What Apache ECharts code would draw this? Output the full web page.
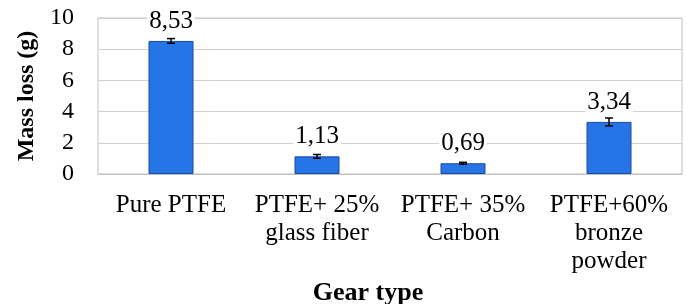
<!DOCTYPE html>
<html>
<head>
<meta charset="utf-8">
<script src="https://cdn.jsdelivr.net/npm/echarts@6/dist/echarts.min.js"></script>
<style>
  html, body { margin: 0; padding: 0; background: #fff; }
  #main { width: 687px; height: 304px; }
</style>
</head>
<body>
<div id="main"></div>
<script>
const categories = ['Pure PTFE', 'PTFE+ 25%\nglass fiber', 'PTFE+ 35%\nCarbon', 'PTFE+60%\nbronze\npowder']
const massLoss = [8.53, 1.13, 0.69, 3.34]
const errors = [0.15, 0.12, 0.06, 0.25]
const labels = ['8,53', '1,13', '0,69', '3,34']

const font = 'Liberation Serif'
const myChart = echarts.init(document.getElementById('main'))

// error bars drawn as custom series from value +/- error
const errorData = massLoss.map((v, i) => [i, v - errors[i], v + errors[i]])

const option = {
  animation: false,
  textStyle: { fontFamily: font, color: '#000' },
  grid: {
    left: 98, right: 5, top: 18, bottom: 130,
    containLabel: false,
    outerBoundsMode: 'none',
    show: true, borderColor: '#c0c0c0', borderWidth: 1
  },
  xAxis: {
    type: 'category',
    data: categories,
    name: 'Gear type',
    nameLocation: 'middle',
    nameGap: 106,
    nameTextStyle: {
      fontFamily: font, fontSize: 26, fontWeight: 'bold', color: '#000',
      padding: [0, 44, 0, 0]
    },
    axisLine: { lineStyle: { color: '#c0c0c0' } },
    axisTick: { show: false },
    axisLabel: {
      interval: 0, fontFamily: font, fontSize: 25, color: '#000',
      lineHeight: 28, margin: 17
    }
  },
  yAxis: {
    type: 'value',
    min: 0, max: 10, interval: 2,
    name: 'Mass loss (g)',
    nameLocation: 'middle',
    nameGap: 58,
    nameTextStyle: { fontFamily: font, fontSize: 24, fontWeight: 'bold', color: '#000' },
    axisLine: { show: false },
    axisTick: { show: false },
    axisLabel: { fontFamily: font, fontSize: 24, color: '#000', margin: 24 },
    splitLine: { lineStyle: { color: '#d0d0d0', width: 1 } }
  },
  series: [
    {
      type: 'bar',
      data: massLoss,
      barWidth: 45,
      itemStyle: { color: '#2575e6', borderColor: '#1a4aa0', borderWidth: 1 },
      label: {
        show: true,
        position: 'top',
        distance: 7,
        fontFamily: font,
        fontSize: 25,
        color: '#000',
        backgroundColor: '#fff',
        padding: [0, 2],
        formatter: p => labels[p.dataIndex]
      },
      z: 2
    },
    {
      type: 'custom',
      data: errorData,
      z: 3,
      renderItem: (params, api) => {
        const x = api.value(0)
        const lo = api.coord([x, api.value(1)])
        const hi = api.coord([x, api.value(2)])
        const half = 4
        const style = { stroke: '#000', lineWidth: 1.5 }
        return {
          type: 'group',
          children: [
            { type: 'line', shape: { x1: lo[0], y1: lo[1], x2: hi[0], y2: hi[1] }, style },
            { type: 'line', shape: { x1: lo[0] - half, y1: lo[1], x2: lo[0] + half, y2: lo[1] }, style },
            { type: 'line', shape: { x1: hi[0] - half, y1: hi[1], x2: hi[0] + half, y2: hi[1] }, style }
          ]
        }
      }
    }
  ]
}
myChart.setOption(option)
</script>
</body>
</html>
